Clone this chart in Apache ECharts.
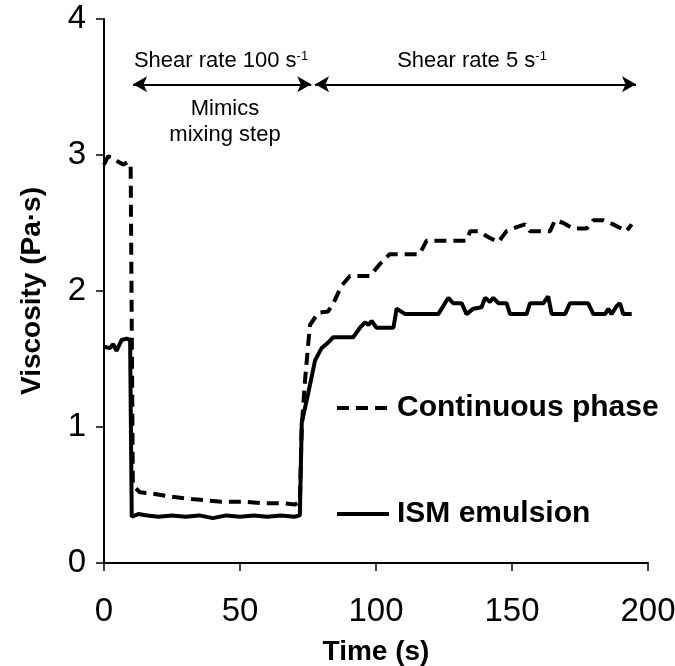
<!DOCTYPE html>
<html>
<head>
<meta charset="utf-8">
<script src="https://cdn.jsdelivr.net/npm/echarts@6/dist/echarts.min.js"></script>
<style>html,body{margin:0;padding:0;background:#fff}#c{width:675px;height:666px}</style>
</head>
<body>
<div id="c"></div>
<script>
// ---- data ----
const cpTime = [0, 1.5, 3.4, 5.2, 7.1, 8.9, 9.8, 10.6, 13.2, 18.1, 23.6, 32.2, 43.2, 51.8, 57.9, 65.3, 70.2, 72, 72.7, 73.9, 75.7, 78.8, 82.4, 84.3, 87.4, 90.4, 97.8, 101.5, 105, 116, 118.6, 133.3, 134.6, 137.6, 141.9, 145, 148, 151.7, 154.8, 156.6, 164, 165.8, 168.9, 172.5, 177.5, 179.9, 183.6, 187.2, 192.1, 194];
const cpVisc = [2.93, 2.99, 2.98, 2.95, 2.93, 2.95, 2.92, 0.57, 0.52, 0.51, 0.49, 0.47, 0.45, 0.45, 0.44, 0.44, 0.43, 0.45, 1.0, 1.34, 1.75, 1.84, 1.85, 1.91, 2.04, 2.11, 2.11, 2.2, 2.27, 2.27, 2.37, 2.37, 2.44, 2.44, 2.39, 2.36, 2.44, 2.47, 2.49, 2.44, 2.44, 2.52, 2.5, 2.46, 2.46, 2.52, 2.52, 2.49, 2.44, 2.49];
const ismTime = [0, 2.2, 3.4, 4.6, 6.5, 8.3, 9.6, 10.2, 12.6, 16, 20, 25, 30, 35, 40, 45, 50, 55, 60, 65, 70, 72, 72.7, 75.1, 77.6, 80, 81.8, 84.3, 91.6, 94.1, 96, 97.2, 98.4, 100.2, 106.4, 107.6, 110.7, 122.9, 126.6, 128.4, 131.5, 133.3, 135.8, 138.8, 140.1, 141.9, 143.1, 145, 148, 149.3, 155.4, 156.6, 161.5, 163.3, 164.6, 169.5, 171.3, 178, 179.9, 184.2, 185.4, 186.6, 188.5, 189.7, 190.9, 194];
const ismVisc = [1.59, 1.58, 1.61, 1.56, 1.64, 1.65, 1.64, 0.34, 0.36, 0.35, 0.34, 0.35, 0.34, 0.35, 0.33, 0.35, 0.34, 0.35, 0.34, 0.35, 0.34, 0.35, 1.03, 1.25, 1.49, 1.58, 1.61, 1.66, 1.66, 1.73, 1.77, 1.75, 1.78, 1.73, 1.73, 1.87, 1.83, 1.83, 1.95, 1.91, 1.91, 1.83, 1.87, 1.88, 1.95, 1.92, 1.95, 1.91, 1.91, 1.83, 1.83, 1.91, 1.91, 1.96, 1.83, 1.83, 1.91, 1.91, 1.83, 1.83, 1.87, 1.83, 1.89, 1.91, 1.83, 1.83];
const seriesNames = ['Continuous phase', 'ISM emulsion'];
const xTicks = [0, 50, 100, 150, 200];
const yTicks = [0, 1, 2, 3, 4];
// annotation arrows: [startTime, endTime, viscosityLevel]
const phaseArrows = [[10.7, 76.2, 3.52], [77.6, 195.6, 3.52]];

const FONT = 'Liberation Sans, Arial, sans-serif';
const zip = (a, b) => a.map((t, i) => [t, b[i]]);

const legendCommon = {
  left: 335, itemWidth: 52, itemHeight: 16, itemGap: 0, padding: 0,
  itemStyle: {color: 'rgba(0,0,0,0)', borderColor: 'rgba(0,0,0,0)', borderWidth: 0},
  lineStyle: {width: 4},
  textStyle: {fontFamily: FONT, fontSize: 30, fontWeight: 'bold', color: '#000', padding: [0, 0, 0, 3]}
};

const chart = echarts.init(document.getElementById('c'), null, {renderer: 'canvas'});
chart.setOption({
  animation: false,
  backgroundColor: '#fff',
  grid: {left: 104, right: 27, top: 19, bottom: 103, containLabel: false, outerBoundsMode: 'none'},
  xAxis: {
    type: 'value', min: xTicks[0], max: xTicks[xTicks.length - 1], interval: 50,
    name: 'Time (s)', nameLocation: 'middle', nameGap: 75,
    nameTextStyle: {fontFamily: FONT, fontSize: 28, fontWeight: 'bold', color: '#000'},
    axisLine: {onZero: false, lineStyle: {color: '#000', width: 2}},
    axisTick: {show: true, inside: false, length: 8, lineStyle: {color: '#000', width: 1.5}},
    axisLabel: {fontFamily: FONT, fontSize: 33, color: '#000', margin: 32},
    splitLine: {show: false}
  },
  yAxis: {
    type: 'value', min: yTicks[0], max: yTicks[yTicks.length - 1], interval: 1,
    name: 'Viscosity (Pa·s)', nameLocation: 'middle', nameGap: 58,
    nameTextStyle: {fontFamily: FONT, fontSize: 28, fontWeight: 'bold', color: '#000'},
    axisLine: {show: true, lineStyle: {color: '#000', width: 2}},
    axisTick: {show: true, inside: false, length: 8, lineStyle: {color: '#000', width: 1.5}},
    axisLabel: {fontFamily: FONT, fontSize: 33, color: '#000', margin: 18},
    splitLine: {show: false}
  },
  legend: [
    Object.assign({data: [seriesNames[0]], top: 393}, legendCommon),
    Object.assign({data: [seriesNames[1]], top: 499}, legendCommon)
  ],
  series: [
    {
      name: seriesNames[0], type: 'line', data: zip(cpTime, cpVisc), symbol: 'none', showSymbol: false,
      lineStyle: {color: '#000', width: 4, type: [12, 7]}, itemStyle: {color: '#000'},
      z: 3,
      markLine: {
        silent: true, symbol: ['arrow', 'arrow'], symbolSize: [12, 14],
        lineStyle: {color: '#000', width: 2, type: 'solid'},
        itemStyle: {color: '#000'},
        label: {show: false},
        data: phaseArrows.map(a => [{coord: [a[0], a[2]]}, {coord: [a[1], a[2]]}])
      }
    },
    {
      name: seriesNames[1], type: 'line', data: zip(ismTime, ismVisc), symbol: 'none', showSymbol: false,
      lineStyle: {color: '#000', width: 4, type: 'solid'}, itemStyle: {color: '#000'}, z: 4
    }
  ],
  graphic: [
    {type: 'text', x: 221, y: 61, style: {
      text: '{a|Shear rate 100 s}{b|-1}', align: 'center', verticalAlign: 'middle',
      rich: {a: {fontFamily: FONT, fontSize: 22, fill: '#000'}, b: {fontFamily: FONT, fontSize: 13, fill: '#000', verticalAlign: 'top', padding: [0, 0, 8, 0]}}
    }},
    {type: 'text', x: 472, y: 61, style: {
      text: '{a|Shear rate 5 s}{b|-1}', align: 'center', verticalAlign: 'middle',
      rich: {a: {fontFamily: FONT, fontSize: 22, fill: '#000'}, b: {fontFamily: FONT, fontSize: 13, fill: '#000', verticalAlign: 'top', padding: [0, 0, 8, 0]}}
    }},
    {type: 'text', x: 225, y: 109, style: {text: 'Mimics', align: 'center', verticalAlign: 'middle', fontFamily: FONT, fontSize: 22, fill: '#000'}},
    {type: 'text', x: 225, y: 135, style: {text: 'mixing step', align: 'center', verticalAlign: 'middle', fontFamily: FONT, fontSize: 22, fill: '#000'}}
  ]
});
</script>
</body>
</html>
